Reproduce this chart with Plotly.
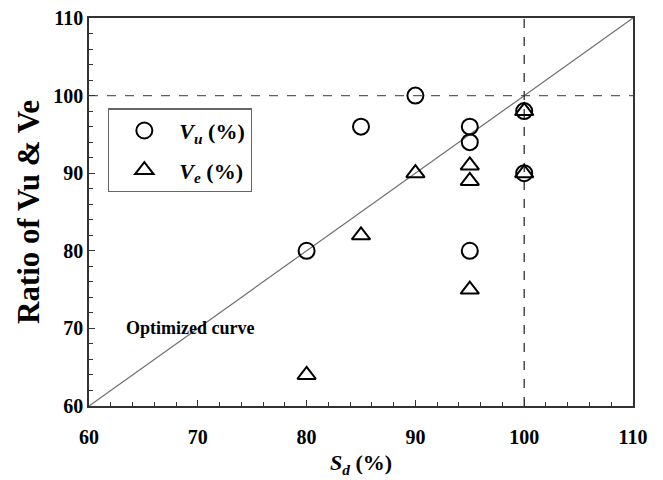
import plotly.graph_objects as go

sd_vu = [80, 85, 90, 95, 95, 95, 100, 100]
vu = [80, 96, 100, 96, 94, 80, 98, 90]
sd_ve = [80, 85, 90, 95, 95, 95, 100, 100]
ve = [64, 82, 90, 91, 89, 75, 98, 90]
diag = [60, 110]
x_ticks = [60, 70, 80, 90, 100, 110]
y_ticks = [60, 70, 80, 90, 100, 110]

FONT = "Liberation Serif"

fig = go.Figure()
# reference lines
fig.add_trace(go.Scatter(x=diag, y=diag, mode="lines", line=dict(color="#707070", width=1.2),
                         showlegend=False, hoverinfo="skip"))
fig.add_trace(go.Scatter(x=[60, 110], y=[100, 100], mode="lines",
                         line=dict(color="#606060", width=1.3, dash="dash"),
                         showlegend=False, hoverinfo="skip"))
fig.add_trace(go.Scatter(x=[100, 100], y=[60, 110], mode="lines",
                         line=dict(color="#303030", width=1.3, dash="dash"),
                         showlegend=False, hoverinfo="skip"))

fig.add_trace(go.Scatter(x=sd_vu, y=vu, mode="markers", name="<b><i>V<sub>u</sub></i> (%)</b>",
                         legendgroup="a",
                         marker=dict(symbol="circle-open", size=16, color="black",
                                     line=dict(width=2, color="black"))))
fig.add_trace(go.Scatter(x=sd_ve, y=ve, mode="markers", name="<b><i>V<sub>e</sub></i> (%)</b>",
                         legendgroup="b",
                         marker=dict(symbol="triangle-up-open", size=16, color="black",
                                     line=dict(width=2, color="black"))))

fig.add_annotation(x=69.3, y=70.1, text="<b>Optimized curve</b>", showarrow=False,
                   font=dict(family=FONT, size=18, color="black"))

axis_common = dict(showgrid=False, zeroline=False, showline=True, linecolor="#333333",
                   linewidth=1.5, mirror=True, ticks="inside", ticklen=6, tickwidth=1,
                   tickcolor="#333333", ticklabeloverflow="allow", automargin=False,
                   minor=dict(ticks="inside", ticklen=4, dtick=2, tickcolor="#333333"),
                   tickfont=dict(family=FONT, size=20, color="black"))

fig.update_xaxes(range=[60, 110], tickvals=x_ticks,
                 ticktext=[f"<b>{v}</b>" for v in x_ticks],
                 ticklabelstandoff=12,
                 title=dict(text="<b><i>S<sub>d</sub></i> (%)</b>",
                            font=dict(family=FONT, size=22, color="black"), standoff=8),
                 **axis_common)
fig.update_yaxes(range=[60, 110], tickvals=y_ticks,
                 ticktext=[f"<b>{v}</b>" for v in y_ticks],
                 title=dict(text="<b>Ratio of Vu &amp; Ve</b>",
                            font=dict(family=FONT, size=31, color="black"), standoff=4),
                 **axis_common)

fig.update_layout(
    width=655, height=472,
    margin=dict(l=81, r=30, t=10, b=74),
    paper_bgcolor="white", plot_bgcolor="white",
    legend=dict(x=0.035, y=0.767, xanchor="left", yanchor="top",
                bordercolor="#666666", borderwidth=1.3, bgcolor="white",
                font=dict(family=FONT, size=22, color="black"),
                tracegroupgap=8, itemwidth=60),
)

fig.write_html("out.html")
